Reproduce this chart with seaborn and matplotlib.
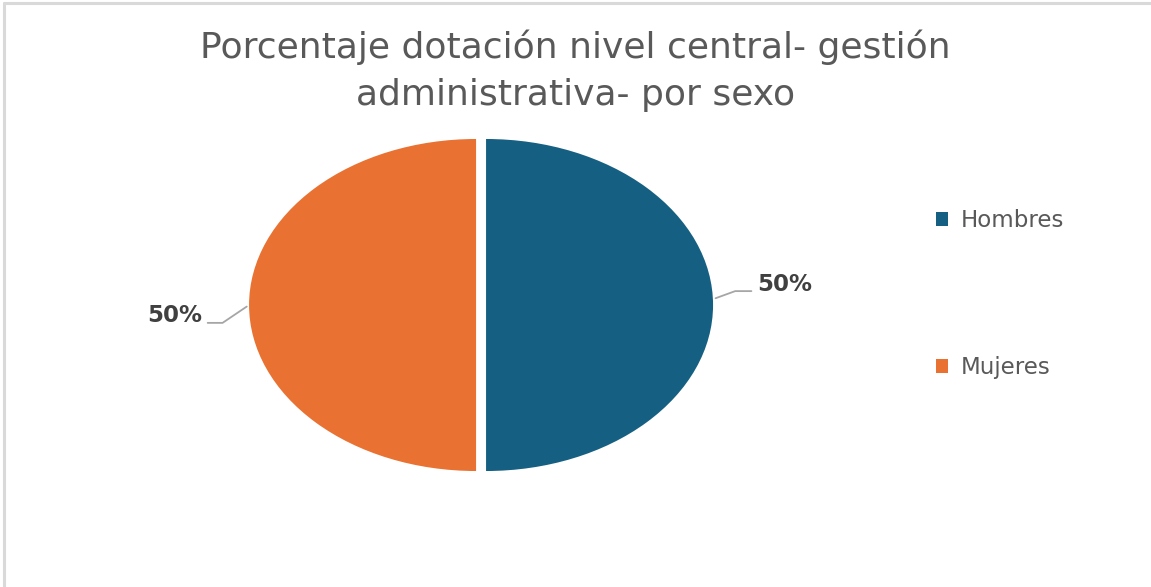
import numpy as np
import matplotlib
matplotlib.use("Agg")
import matplotlib.pyplot as plt
from matplotlib.lines import Line2D
import seaborn as sns

# datos
categorias = ["Hombres", "Mujeres"]
porcentajes = [50, 50]
colores = ["#156082", "#E97132"]
titulo = "Porcentaje dotación nivel central- gestión\nadministrativa- por sexo"

sns.set_theme(style="white")
plt.rcParams["font.family"] = ["DejaVu Sans"]

W, H = 1151, 587
fig = plt.figure(figsize=(W / 100, H / 100), dpi=100)
fig.patch.set_facecolor("white")

# borde superior e izquierdo del gráfico
fig.add_artist(Line2D([4 / W, 1], [1 - 3 / H, 1 - 3 / H], color="#d9d9d9", lw=2.2))
fig.add_artist(Line2D([4 / W, 4 / W], [0, 1 - 3 / H], color="#d9d9d9", lw=2.2))

ax = fig.add_axes([0.201, 0.1693, 0.4339, 0.6222])
wedges, _ = ax.pie(porcentajes, colors=colores, startangle=90, counterclock=False,
                   explode=[0.022, 0.022], wedgeprops=dict(linewidth=0))
ax.set_aspect("auto")
ax.set_xlim(-1.1, 1.1)
ax.set_ylim(-1.1, 1.1)
ax.axis("off")

# etiquetas con líneas guía
ajustes = [
    dict(desv=2, off=(31.7, 10.8), ha="left", relpos=(0, 0.2), angB=20),
    dict(desv=0, off=(-33.8, -7.9), ha="right", relpos=(1, 0.2), angB=34),
]
for w, p, a in zip(wedges, porcentajes, ajustes):
    ang = np.deg2rad((w.theta1 + w.theta2) / 2 + a["desv"])
    cx, cy = w.center
    xy = (cx + w.r * np.cos(ang), cy + w.r * np.sin(ang))
    ax.annotate(f"{p}%", xy=xy, xytext=a["off"], textcoords="offset points",
                ha=a["ha"], va="center", fontsize=16.5, fontweight="bold", color="#404040",
                arrowprops=dict(arrowstyle="-", color="#a6a6a6", lw=1.3,
                                connectionstyle=f"angle,angleA=0,angleB={a['angB']},rad=0",
                                relpos=a["relpos"], patchA=None, shrinkA=4, shrinkB=2))

fig.text(0.5, 1 - 71 / H, titulo, ha="center", va="center", fontsize=26,
         color="#595959", linespacing=1.5)

leg = fig.legend(wedges, categorias, loc="center left", bbox_to_anchor=(915 / W, 1 - 294 / H),
                 frameon=False, fontsize=16.5, labelcolor="#595959", handlelength=0.55,
                 handleheight=0.55, handletextpad=0.55, labelspacing=5.4)

fig.savefig("out.png", dpi=100, facecolor="white")
